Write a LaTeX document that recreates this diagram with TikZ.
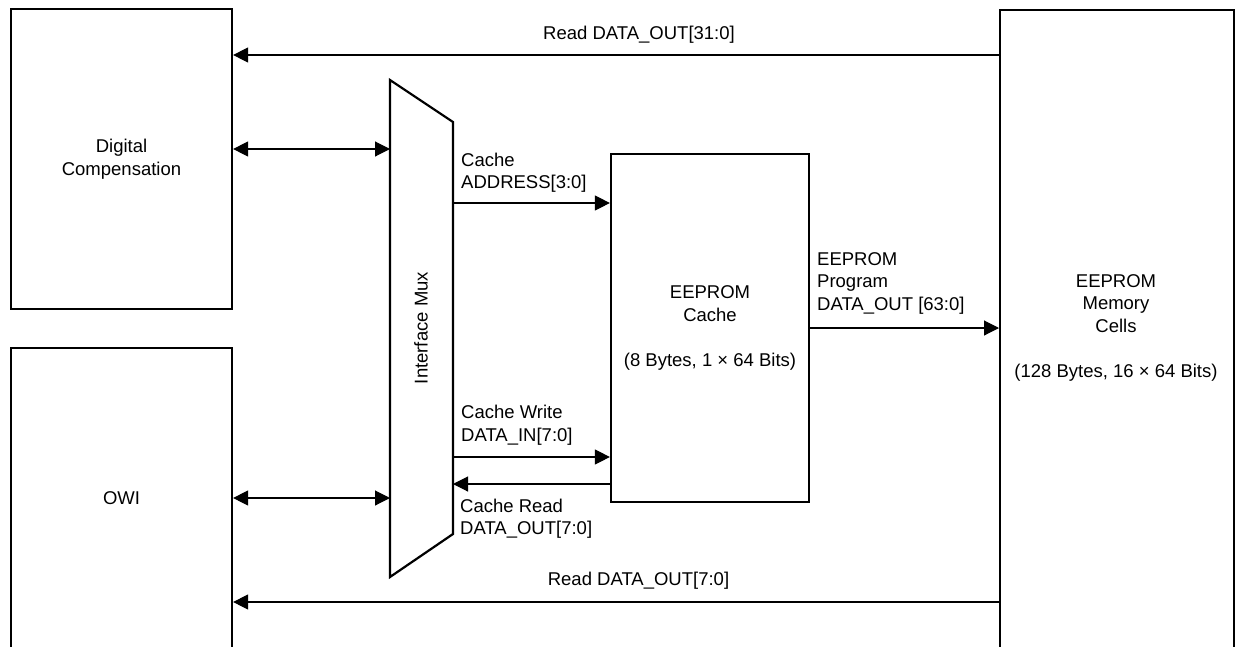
\documentclass[tikz,border=0pt]{standalone}
\usepackage{fontspec}
\setmainfont{Liberation Sans}
\usetikzlibrary{arrows.meta}

\begin{document}
\begin{tikzpicture}[x=1pt,y=-1pt,
    font=\fontsize{18.5}{22.5}\selectfont,
    blk/.style={draw,line width=2.2pt,inner sep=0pt,align=center},
    sig/.style={line width=1.1pt,-{Triangle[length=15pt,width=15pt]}},
    bus/.style={line width=1.1pt,{Triangle[length=15pt,width=15pt]}-{Triangle[length=15pt,width=15pt]}},
    lbl/.style={inner sep=0pt,align=left,anchor=west}]
  \useasboundingbox (0,0) rectangle (1235,646);
  \clip (0,0) rectangle (1235,646);
  % blocks
  \node[blk,minimum width=221pt,minimum height=300pt] (dc) at (121.5,159) {Digital\\Compensation};
  \node[blk,minimum width=221pt,minimum height=300pt] (owi) at (121.5,498) {OWI};
  \node[blk,minimum width=198pt,minimum height=348pt] (cache) at (710,328) {EEPROM\\Cache\\[22.5pt](8 Bytes, 1 × 64 Bits)};
  \node[blk,minimum width=234pt,minimum height=700pt,anchor=north west] (mem) at (999,9) {};
  \node[align=center] (memtxt) at (1116,327.5) {EEPROM\\Memory\\Cells\\[22.5pt](128 Bytes, 16 × 64 Bits)};
  % mux
  \draw[line width=2.2pt] (390,80) coordinate (muxnw) -- (453,122) coordinate (muxne)
    -- (453,534) coordinate (muxse) -- (390,577) coordinate (muxsw) -- cycle;
  \node[rotate=90] (muxlbl) at (421,328) {Interface Mux};
  % connections
  \draw[sig] (mem.west |- 0,55) -- (dc.east |- 0,55);
  \draw[bus] (dc.east |- 0,149) -- (muxnw |- 0,149);
  \draw[bus] (owi.east |- 0,498) -- (muxnw |- 0,498);
  \draw[sig] (mem.west |- 0,602) -- (owi.east |- 0,602);
  \draw[sig] (muxne |- 0,203) -- (cache.west |- 0,203);
  \draw[sig] (muxne |- 0,457) -- (cache.west |- 0,457);
  \draw[sig] (cache.west |- 0,484) -- (muxne |- 0,484);
  \draw[sig] (cache.east |- 0,328) -- (mem.west |- 0,328);
  % labels
  \node (rd32) at (639,35) {Read DATA\_OUT[31:0]};
  \node (rd8) at (638.5,581) {Read DATA\_OUT[7:0]};
  \node[lbl] (addr) at (461,172.5) {Cache\\ADDRESS[3:0]};
  \node[lbl] (wr) at (461,425) {Cache Write\\DATA\_IN[7:0]};
  \node[lbl] (rdc) at (460,518.5) {Cache Read\\DATA\_OUT[7:0]};
  \node[lbl] (prog) at (817,283) {EEPROM\\Program\\DATA\_OUT [63:0]};
\end{tikzpicture}
\end{document}
